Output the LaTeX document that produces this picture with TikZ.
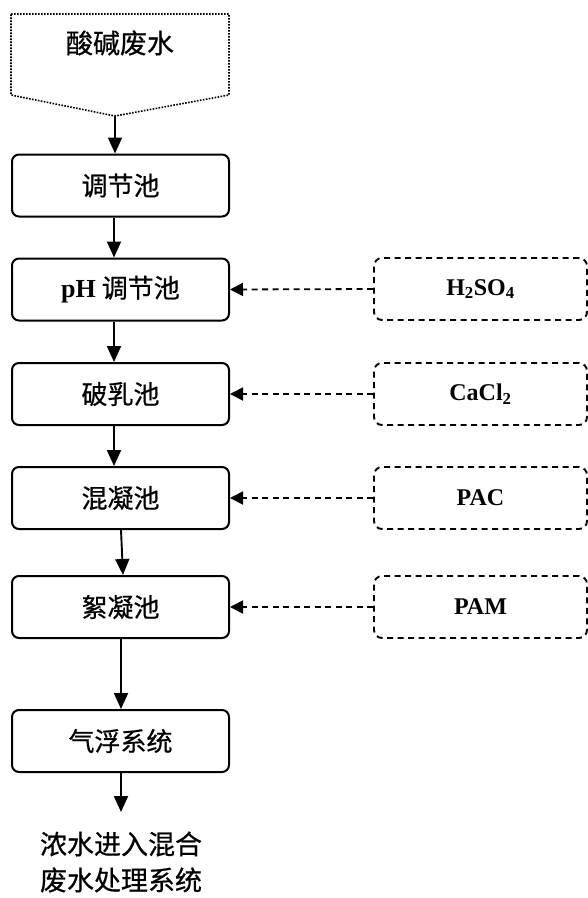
\documentclass[tikz,border=0pt]{standalone}
\usepackage{fontspec}
\setmainfont{Liberation Serif}
\newfontfamily\latin{Liberation Serif}
\newfontfamily\cjk[FakeBold=0.6]{Noto Sans CJK SC}
\usetikzlibrary{arrows.meta}
\tikzset{
  stage/.style={draw, line width=2pt, rounded corners=7pt, minimum width=217pt,
    minimum height=62pt, inner sep=0pt, font=\cjk\fontsize{26}{30}\selectfont},
  dose/.style={draw, line width=1.9pt, dash pattern=on 6pt off 4.5pt, rounded corners=8pt,
    minimum width=213pt, minimum height=62pt, inner sep=0pt,
    font=\latin\bfseries\fontsize{24}{28}\selectfont},
  flow/.style={line width=1.9pt, -{Triangle[length=16pt,width=14pt]}},
  feed/.style={line width=1.8pt, dash pattern=on 6pt off 4.5pt, -{Triangle[length=13pt,width=13pt]}}
}
\begin{document}
\begin{tikzpicture}[x=1pt,y=-1pt]
\useasboundingbox (0,0) rectangle (588,898);

% raw wastewater source (off-page shape)
\draw[line width=1.6pt, dash pattern=on 1.6pt off 1.4pt]
  (11,14) -- (229,14) -- (229,95) -- (115,116) -- (11,95) -- cycle;
\coordinate (srctip) at (115,116);
\node[font=\cjk\fontsize{27}{30}\selectfont] (src) at (120,43) {酸碱废水};

% treatment stages
\node[stage] (b1) at (120.5,185.5) {调节池};
\node[stage] (b2) at (120.5,289.5) {{\latin\bfseries pH} 调节池};
\node[stage] (b3) at (120.5,394) {破乳池};
\node[stage] (b4) at (120.5,498) {混凝池};
\node[stage] (b5) at (120.5,607) {絮凝池};
\node[stage] (b6) at (120.5,741) {气浮系统};

% dosing chemicals
\node[dose] (d1) at (480.5,289) {H\textsubscript{2}SO\textsubscript{4}};
\node[dose] (d2) at (480.5,394) {CaCl\textsubscript{2}};
\node[dose] (d3) at (480.5,498) {PAC};
\node[dose] (d4) at (480.5,607) {PAM};

% outlet
\node[align=center, font=\cjk\fontsize{27}{36}\selectfont] (out) at (121,862)
  {浓水进入混合\\废水处理系统};
\coordinate (outtop) at (121,812);

% main flow
\draw[flow] (srctip) -- (srctip |- b1.north);
\draw[flow] ([xshift=-6.5pt]b1.south) -- ([xshift=-6.5pt]b2.north);
\draw[flow] ([xshift=-6.5pt]b2.south) -- ([xshift=-6.5pt]b3.north);
\draw[flow] ([xshift=-6.5pt]b3.south) -- ([xshift=-6.5pt]b4.north);
\draw[flow] ([xshift=0.5pt]b4.south) -- ([xshift=2.5pt]b5.north);
\draw[flow] ([xshift=0.5pt]b5.south) -- ([xshift=0.5pt]b6.north);
\draw[flow] ([xshift=0.5pt]b6.south) -- (outtop);

% chemical feeds
\draw[feed] (d1.west) -- (b2.east);
\draw[feed] (d2.west) -- (b3.east);
\draw[feed] (d3.west) -- (b4.east);
\draw[feed] (d4.west) -- (b5.east);
\end{tikzpicture}
\end{document}
